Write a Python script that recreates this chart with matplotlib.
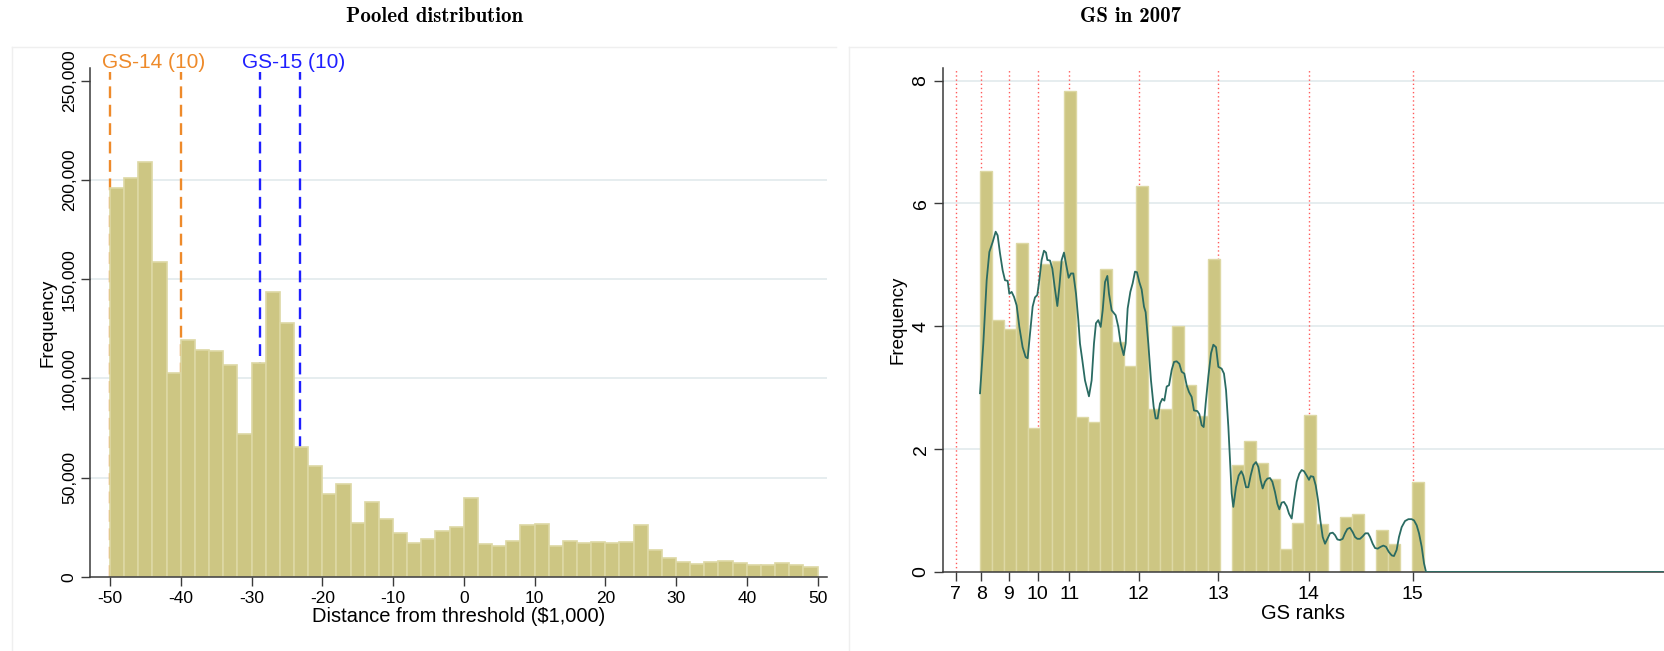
import numpy as np
import matplotlib
matplotlib.use("Agg")
import matplotlib.pyplot as plt
from matplotlib.ticker import FuncFormatter

plt.rcParams['font.family'] = ['Liberation Sans', 'DejaVu Sans']
plt.rcParams['axes.unicode_minus'] = False

# ---- pooled distribution (left) ----
pooled_bin_left = np.arange(-50, 50, 2)
pooled_freq = [196, 201, 209, 158.5, 102.7, 119.5, 114.5, 113.6, 107, 72,
               108, 143.8, 128, 65.5, 56, 41.8, 46.8, 27, 37.5, 29.3,
               22.2, 16.8, 19, 23.2, 25.3, 39.9, 16.3, 15.3, 18.2, 26.3,
               26.4, 15.7, 17.8, 16.8, 17.3, 16.8, 17.3, 25.9, 13.5, 9.3,
               7.2, 6.6, 7.2, 7.9, 6.7, 5.7, 5.7, 6.9, 5.7, 4.9]  # thousands
gs14_lines = [-50, -40]
gs15_lines = [-28.8, -23.1]

# ---- GS in 2007 (right) ----
gs_labels = ['7', '8', '9', '10', '11', '12', '13', '14', '15']
gs_salary = [34.465, 38.175, 42.152, 46.423, 51.003, 61.130, 72.692, 85.901, 101.043]  # $1,000
gs_bin_start = 37.985
gs_bin_width = 1.749
gs_freq = [6.52, 4.11, 3.95, 5.36, 2.34, 5.01, 5.06, 7.83, 2.52, 2.45,
           4.94, 3.74, 3.35, 6.29, 2.66, 2.65, 4.00, 3.04, 2.54, 5.10,
           0, 1.74, 2.13, 1.78, 1.52, 0.37, 0.79, 2.55, 0.78, 0,
           0.89, 0.95, 0, 0.68, 0.45, 0, 1.47, 0, 0, 0,
           0, 0, 0, 0, 0, 0, 0, 0, 0, 0,
           0, 0, 0, 0, 0, 0, 0]
kde_x = [37.99, 38.47, 38.96, 39.35, 39.83, 40.27, 40.56, 40.90, 41.29, 41.63,
         42.02, 42.26, 42.60, 42.94, 43.33, 43.72, 44.20, 44.64, 44.93, 45.27,
         45.66, 46.00, 46.34, 46.63, 46.97, 47.31, 47.61, 47.80, 48.19, 48.53,
         48.87, 49.26, 49.55, 49.89, 50.23, 50.52, 50.91, 51.25, 51.59, 51.98,
         52.32, 52.56, 52.90, 53.29, 53.87, 54.26, 54.60, 54.89, 55.23, 55.58,
         55.87, 56.21, 56.55, 56.79, 57.18, 57.76, 58.15, 58.49, 58.93, 59.22,
         59.51, 59.90, 60.24, 60.58, 60.87, 61.21, 61.55, 61.89, 62.13, 62.52,
         62.91, 63.30, 63.59, 63.88, 64.22, 64.56, 64.86, 65.20, 65.54, 65.93,
         66.27, 66.65, 67.04, 67.38, 67.77, 68.11, 68.45, 68.84, 69.18, 69.67,
         69.96, 70.30, 70.59, 70.88, 71.27, 71.66, 72.00, 72.39, 72.73, 73.21,
         73.55, 73.85, 74.19, 74.43, 74.67, 74.91, 75.30, 75.69, 76.08, 76.37,
         76.76, 77.10, 77.44, 77.83, 78.22, 78.56, 78.90, 79.19, 79.53, 79.87,
         80.26, 80.60, 80.99, 81.33, 81.62, 81.96, 82.30, 82.69, 83.03, 83.42,
         83.76, 84.15, 84.53, 84.88, 85.22, 85.60, 85.94, 86.19, 86.58, 86.92,
         87.26, 87.60, 87.94, 88.28, 88.62, 89.01, 89.40, 89.74, 90.08, 90.46,
         90.85, 91.19, 91.53, 91.92, 92.31, 92.65, 92.99, 93.38, 93.77, 94.16,
         94.55, 94.84, 95.23, 95.57, 95.96, 96.39, 96.78, 97.17, 97.56, 98.00,
         98.33, 98.72, 99.06, 99.45, 99.94, 100.43, 100.91, 101.25, 101.64, 101.98,
         102.37, 102.71, 103.00, 137.5]
kde_y = [2.91, 3.72, 4.75, 5.21, 5.37, 5.54, 5.48, 5.19, 4.91, 4.75,
         4.74, 4.53, 4.56, 4.48, 4.34, 3.99, 3.66, 3.50, 3.48, 3.88,
         4.32, 4.47, 4.51, 4.75, 5.08, 5.23, 5.20, 5.08, 5.07, 4.94,
         4.64, 4.33, 4.64, 5.08, 5.20, 5.02, 4.79, 4.86, 4.86, 4.53,
         4.10, 3.72, 3.45, 3.12, 2.86, 3.12, 3.72, 4.05, 4.10, 3.99,
         4.26, 4.72, 4.82, 4.53, 4.26, 4.18, 3.99, 3.72, 3.53, 3.72,
         4.29, 4.56, 4.70, 4.89, 4.88, 4.72, 4.60, 4.32, 4.23, 3.72,
         3.12, 2.69, 2.50, 2.50, 2.74, 2.82, 2.79, 3.02, 3.04, 3.29,
         3.42, 3.43, 3.39, 3.26, 3.23, 3.04, 2.93, 2.85, 2.63, 2.62,
         2.57, 2.39, 2.36, 2.74, 3.18, 3.56, 3.70, 3.66, 3.34, 3.31,
         3.23, 2.96, 2.36, 1.82, 1.28, 1.06, 1.38, 1.57, 1.64, 1.57,
         1.38, 1.38, 1.57, 1.74, 1.79, 1.71, 1.49, 1.36, 1.47, 1.52,
         1.53, 1.47, 1.30, 1.11, 1.02, 1.13, 1.14, 1.07, 0.95, 0.87,
         1.17, 1.47, 1.60, 1.66, 1.64, 1.57, 1.50, 1.56, 1.55, 1.41,
         1.17, 0.84, 0.57, 0.46, 0.54, 0.63, 0.64, 0.60, 0.53, 0.52,
         0.54, 0.63, 0.70, 0.72, 0.65, 0.57, 0.54, 0.54, 0.58, 0.63,
         0.63, 0.57, 0.46, 0.39, 0.38, 0.41, 0.43, 0.41, 0.33, 0.27,
         0.26, 0.36, 0.57, 0.73, 0.83, 0.86, 0.86, 0.84, 0.76, 0.63,
         0.41, 0.14, 0.0, 0.0]

bar_fill = '#cdc683'
bar_edge = '#ddd8a4'
grid_col = '#e6edef'
axis_col = '#3a3a3a'

fig = plt.figure(figsize=(16.64, 6.51), dpi=100)

# faint graph-region frames
fig.add_artist(plt.Line2D([12/1664, 12/1664], [0, 1 - 47/651], color='#efefef', lw=1))
fig.add_artist(plt.Line2D([12/1664, 836/1664], [1 - 47/651, 1 - 47/651], color='#efefef', lw=1))
fig.add_artist(plt.Line2D([849/1664, 849/1664], [0, 1 - 47/651], color='#efefef', lw=1))
fig.add_artist(plt.Line2D([849/1664, 1], [1 - 47/651, 1 - 47/651], color='#efefef', lw=1))


def style_axes(ax):
    for s in ['top', 'right']:
        ax.spines[s].set_visible(False)
    for s in ['left', 'bottom']:
        ax.spines[s].set_color(axis_col)
        ax.spines[s].set_linewidth(1.1)
    ax.tick_params(direction='out', length=6.5, width=1, color=axis_col,
                   labelsize=12.5, labelcolor='black')
    ax.tick_params(axis='y', labelrotation=90, pad=3)
    for t in ax.get_yticklabels():
        t.set_va('center')


# ---- left panel ----
ax1 = fig.add_axes([90/1664, 1 - 576.7/651, 737/1664, 508.4/651])
ax1.set_xlim(-52.83, 51.34)
ax1.set_ylim(0, 256.4)
for g in [50, 100, 150, 200]:
    ax1.axhline(g, color=grid_col, lw=1.4, zorder=0)
ax1.bar(pooled_bin_left, pooled_freq, width=2, align='edge', color=bar_fill,
        edgecolor=bar_edge, linewidth=1.2, zorder=2)
for x in gs14_lines:
    ax1.plot([x, x], [0, 254.5], color='#ee8a2a', lw=1.7, ls=(0, (5, 2.8)), zorder=1)
for x in gs15_lines:
    ax1.plot([x, x], [0, 254.5], color='#1f1fff', lw=1.7, ls=(0, (5, 2.8)), zorder=1)
ax1.text(-51.2, 259.5, 'GS-14 (10)', color='#ee8a2a', fontsize=15, ha='left', va='center')
ax1.text(-31.3, 259.5, 'GS-15 (10)', color='#1f1fff', fontsize=15, ha='left', va='center')
ax1.set_xticks(np.arange(-50, 51, 10))
ax1.set_yticks([0, 50, 100, 150, 200, 250])
ax1.yaxis.set_major_formatter(FuncFormatter(lambda v, p: f'{int(v * 1000):,}'))
style_axes(ax1)
ax1.set_xlabel('Distance from threshold ($1,000)', fontsize=14.5, labelpad=1)
ax1.set_ylabel('Frequency', fontsize=13.5, labelpad=4)

# ---- right panel ----
ax2 = fig.add_axes([942.7/1664, 1 - 572/651, 721.3/1664, 503.7/651])
ax2.set_xlim(32.55, 137.69)
ax2.set_ylim(0, 8.2)
for g in [2, 4, 6, 8]:
    ax2.axhline(g, color=grid_col, lw=1.4, zorder=0)
for x in gs_salary:
    ax2.plot([x, x], [0, 8.2], color='#ff5a5a', lw=1.0, ls=(0, (1, 2)), zorder=1)
gs_left = gs_bin_start + gs_bin_width * np.arange(len(gs_freq))
ax2.bar(gs_left, gs_freq, width=gs_bin_width, align='edge', color=bar_fill,
        edgecolor=bar_edge, linewidth=1.0, zorder=2)
ax2.plot(kde_x, kde_y, color='#2a6b62', lw=1.3, zorder=3)
ax2.set_xticks(gs_salary)
ax2.set_xticklabels(gs_labels)
ax2.set_yticks([0, 2, 4, 6, 8])
ax2.yaxis.set_major_formatter(FuncFormatter(lambda v, p: f'{int(v)}'))
style_axes(ax2)
ax2.tick_params(axis='x', labelsize=14)
ax2.tick_params(axis='y', labelsize=14)
ax2.set_xlabel('GS ranks', fontsize=14.5, labelpad=1)
ax2.set_ylabel('Frequency', fontsize=13.5, labelpad=4)

fig.text(435/1664, 1 - 17/651, 'Pooled distribution', fontfamily='cmb10',
         fontsize=15, ha='center', va='center')
fig.text(1131/1664, 1 - 17/651, 'GS in 2007', fontfamily='cmb10',
         fontsize=15, ha='center', va='center')

fig.savefig('out.png', dpi=100)
